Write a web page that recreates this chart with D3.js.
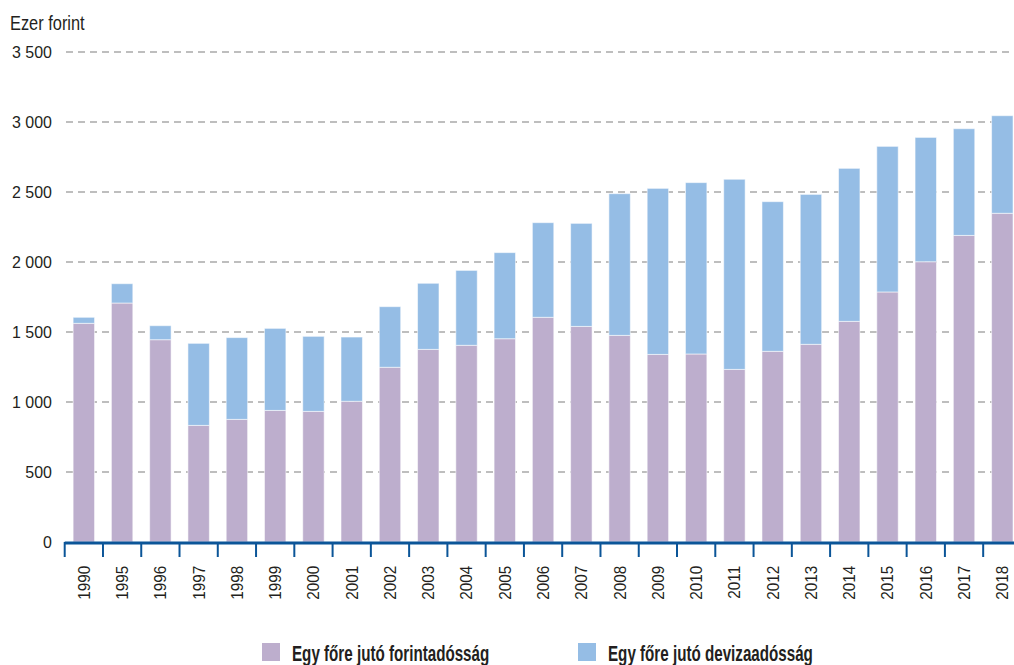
<!DOCTYPE html>
<html>
<head>
<meta charset="utf-8">
<script src="https://cdn.jsdelivr.net/npm/d3@7"></script>
<style>
  body { margin: 0; background: #fff; }
  svg { display: block; font-family: "Liberation Sans", Arial, sans-serif; }
</style>
</head>
<body>
<svg width="1014" height="665"></svg>
<script>
// data (ezer forint)
const years = ["1990","1995","1996","1997","1998","1999","2000","2001","2002","2003","2004","2005","2006","2007","2008","2009","2010","2011","2012","2013","2014","2015","2016","2017","2018"];
const forint = [1562,1707,1445,833,876,940,933,1005,1248,1376,1405,1452,1605,1540,1476,1340,1343,1233,1362,1412,1576,1786,2002,2190,2348];
const deviza = [43,138,100,586,584,586,536,459,433,472,535,615,676,736,1012,1186,1224,1358,1069,1071,1093,1040,888,762,697];
const yTicks = [0,500,1000,1500,2000,2500,3000,3500];
const seriesNames = ["Egy főre jutó forintadósság", "Egy főre jutó devizaadósság"];
const colors = ["#bdaecd", "#95bde5"];

const svg = d3.select("svg"),
    width = +svg.attr("width"),
    height = +svg.attr("height");

const x0 = 64.7, step = 38.27;

const x = d3.scaleBand()
    .domain(years)
    .range([x0, x0 + step * years.length])
    .paddingInner(0.44)
    .paddingOuter(0.22);

const y = d3.scaleLinear()
    .domain([0, 3500])
    .range([542, 52]);

const hu = d3.formatLocale({decimal: ",", thousands: "\u00a0", grouping: [3], currency: ["", " Ft"]});
const fmt = hu.format(",d");

// gridlines
svg.append("g")
  .selectAll("line")
  .data(yTicks.filter(d => d > 0))
  .join("line")
    .attr("x1", 66)
    .attr("x2", width)
    .attr("y1", d => y(d))
    .attr("y2", d => y(d))
    .attr("stroke", "#a9a9a9")
    .attr("stroke-width", 1.3)
    .attr("stroke-dasharray", "7,5");

// y axis labels
const yAxis = svg.append("g")
    .attr("transform", "translate(52,0)")
    .call(d3.axisLeft(y).tickValues(yTicks).tickSize(0).tickPadding(0).tickFormat(fmt));
yAxis.select(".domain").remove();
yAxis.selectAll("text")
    .attr("font-family", "Liberation Sans, Arial, sans-serif")
    .attr("font-size", 17)
    .attr("fill", "#231f20")
    .attr("transform", "scale(0.94,1)");

svg.append("text")
    .attr("transform", "translate(10,30) scale(0.82,1)")
    .attr("font-size", 20)
    .attr("fill", "#231f20")
    .text("Ezer forint");

// stacked bars
const table = years.map((d, i) => ({year: d, forint: forint[i], deviza: deviza[i]}));
const stack = d3.stack().keys(["forint", "deviza"]);
const layers = stack(table);

svg.append("g")
  .selectAll("g")
  .data(layers)
  .join("g")
    .attr("fill", (d, i) => colors[i])
  .selectAll("rect")
  .data(d => d)
  .join("rect")
    .attr("x", d => x(d.data.year))
    .attr("width", x.bandwidth())
    .attr("y", d => y(d[1]))
    .attr("height", d => y(d[0]) - y(d[1]))
    .attr("stroke", "#ffffff")
    .attr("stroke-opacity", 0.55)
    .attr("stroke-width", 1);

// x axis
const boundaries = years.map(d => x(d) + x.bandwidth() / 2 - x.step() / 2);
boundaries.push(boundaries[boundaries.length - 1] + x.step());

svg.append("g")
  .selectAll("line")
  .data(boundaries)
  .join("line")
    .attr("x1", d => d)
    .attr("x2", d => d)
    .attr("y1", 542)
    .attr("y2", 557)
    .attr("stroke", "#0b5598")
    .attr("stroke-width", 2);

svg.append("line")
    .attr("x1", x0)
    .attr("x2", width)
    .attr("y1", 543)
    .attr("y2", 543)
    .attr("stroke", "#0b5598")
    .attr("stroke-width", 2.8);

const xAxis = svg.append("g")
    .attr("transform", "translate(0,542)")
    .call(d3.axisBottom(x).tickSize(0));
xAxis.select(".domain").remove();
xAxis.selectAll("text")
    .attr("font-family", "Liberation Sans, Arial, sans-serif")
    .attr("font-size", 17)
    .attr("fill", "#231f20")
    .attr("transform", "rotate(-90) scale(0.9,1)")
    .attr("text-anchor", "end")
    .attr("x", -26.5)
    .attr("y", 0)
    .attr("dy", "0.35em");

// legend
const legendX = [262, 578];
const legend = svg.append("g")
  .selectAll("g")
  .data(seriesNames)
  .join("g")
    .attr("transform", (d, i) => `translate(${legendX[i]},643)`);
legend.append("rect")
    .attr("width", 18)
    .attr("height", 18)
    .attr("fill", (d, i) => colors[i]);
legend.append("text")
    .attr("transform", "translate(30,18) scale(0.69,1)")
    .attr("font-size", 22)
    .attr("font-weight", "bold")
    .attr("fill", "#231f20")
    .text(d => d);
</script>
</body>
</html>
